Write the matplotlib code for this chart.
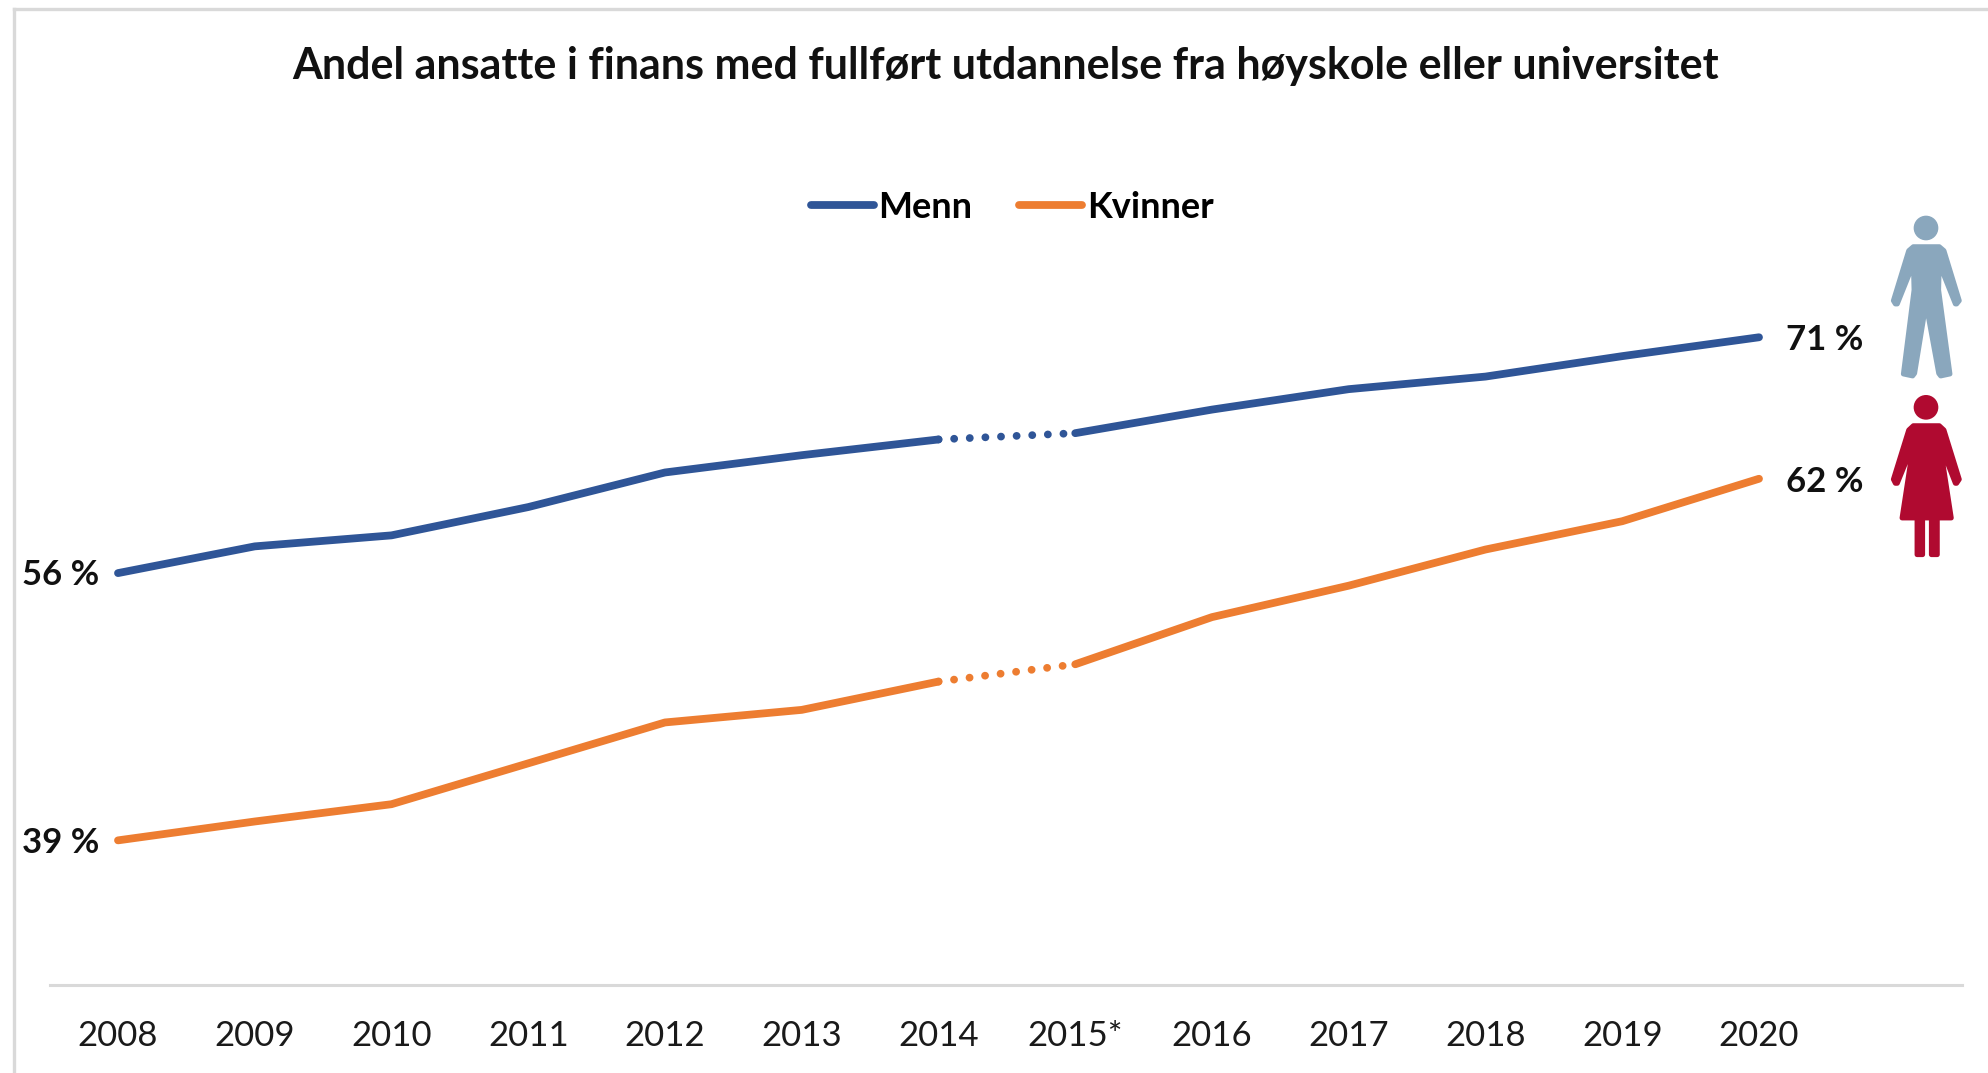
import matplotlib
matplotlib.use("Agg")
import numpy as np
import matplotlib.pyplot as plt
from matplotlib.patches import Polygon, Circle
from matplotlib.lines import Line2D
from matplotlib.transforms import Affine2D

plt.rcParams['font.family'] = ['Lato', 'DejaVu Sans']

W, H = 1988, 1073
title = "Andel ansatte i finans med fullført utdannelse fra høyskole eller universitet"
years = ["2008","2009","2010","2011","2012","2013","2014","2015*","2016","2017","2018","2019","2020"]
menn = [56, 57.7, 58.4, 60.2, 62.4, 63.5, 64.5, 64.9, 66.4, 67.7, 68.5, 69.8, 71]
kvinner = [39, 40.2, 41.3, 43.9, 46.5, 47.3, 49.1, 50.2, 53.2, 55.2, 57.5, 59.3, 62]
end_labels = {"menn": ("56 %", "71 %"), "kvinner": ("39 %", "62 %")}
BLUE, ORANGE = "#2F5597", "#ED7D31"
GREY = "#D9D9D9"

fig = plt.figure(figsize=(W/100, H/100), dpi=100, facecolor="white")
AX_L, AX_R = 50, 1962
ax = fig.add_axes([AX_L/W, 1-985/H, (AX_R-AX_L)/W, (985-40)/H])
px_x0, px_dx = 118, (1759-118)/12
ax.set_xlim((AX_L-px_x0)/px_dx, (AX_R-px_x0)/px_dx)
ppu = 12.4*1988/1568
ax.set_ylim(29.8, 29.8+(985-40)/ppu)
for s in ["top", "left", "right"]:
    ax.spines[s].set_visible(False)
ax.spines["bottom"].set_color(GREY)
ax.spines["bottom"].set_linewidth(2.2)
ax.set_yticks([])
ax.set_xticks(range(len(years)), years, fontsize=25, color="#1a1a1a")
ax.tick_params(axis="x", length=0, pad=25)

x = np.arange(len(years))
LW = 5.6
for vals, col, lab in [(menn, BLUE, "Menn"), (kvinner, ORANGE, "Kvinner")]:
    ax.plot(x[:7], vals[:7], color=col, lw=LW, solid_capstyle="round", solid_joinstyle="round")
    ax.plot(x[7:], vals[7:], color=col, lw=LW, solid_capstyle="round", solid_joinstyle="round")
    ax.plot(x[6:8], vals[6:8], color=col, lw=LW, ls=(0, (0.01, 2.0)), dash_capstyle="round")

kw = dict(fontsize=25, fontweight="bold", color="#111111", va="center")
ax.annotate(end_labels["menn"][0], (0, menn[0]), xytext=(-19, -2), textcoords="offset pixels", ha="right", **kw)
ax.annotate(end_labels["kvinner"][0], (0, kvinner[0]), xytext=(-19, -3), textcoords="offset pixels", ha="right", **kw)
ax.annotate(end_labels["menn"][1], (12, menn[-1]), xytext=(27, -3), textcoords="offset pixels", ha="left", **kw)
ax.annotate(end_labels["kvinner"][1], (12, kvinner[-1]), xytext=(27, -3), textcoords="offset pixels", ha="left", **kw)

handles = [Line2D([], [], color=BLUE, lw=LW, solid_capstyle="round"),
           Line2D([], [], color=ORANGE, lw=LW, solid_capstyle="round")]
fig.legend(handles, ["Menn", "Kvinner"], ncol=2, frameon=False, loc="center",
           bbox_to_anchor=(1012/W, 1-207/H), prop=dict(size=26, weight="bold"),
           handlelength=1.75, handletextpad=0.12, columnspacing=1.3)

fig.text(1006/W, 1-66/H, title, fontsize=31, fontweight="bold", color="#111111", ha="center", va="center")

# frame of the screenshot
fig.add_artist(Line2D([14/W, 14/W], [0, 1-9/H], color=GREY, lw=2.4, transform=fig.transFigure))
fig.add_artist(Line2D([14/W, 1], [1-9/H, 1-9/H], color=GREY, lw=2.4, transform=fig.transFigure))

# pictograms, outlined in zoom-crop coordinates (3x crop starting at 1780,190)
icon = Affine2D().scale(1/3).translate(1780, 190).scale(1, -1).translate(0, H)
man = [(400,170),(478,170),(492,182),(538,332),(530,342),(526,342),(478,222),(476,300),(510,552),(482,558),(476,550),(438,342),(404,550),(398,558),(370,552),(402,300),(400,222),(352,342),(346,342),(340,332),(386,182)]
woman = [(400,707),(478,707),(492,720),(538,868),(530,880),(526,880),(480,762),(514,984),(472,984),(472,1094),(454,1094),(454,984),(428,984),(428,1094),(411,1094),(411,984),(366,984),(400,762),(352,880),(346,880),(340,868),(386,720)]
for pts, head_y, c in [(man, 114, "#8AA7BD"), (woman, 652, "#B00A30")]:
    fig.add_artist(Polygon(pts, closed=True, facecolor=c, edgecolor=c, lw=3.5, joinstyle="round", transform=icon))
    fig.add_artist(Circle((438, head_y), 37, facecolor=c, edgecolor="none", transform=icon))

fig.savefig("out.png", dpi=100)
